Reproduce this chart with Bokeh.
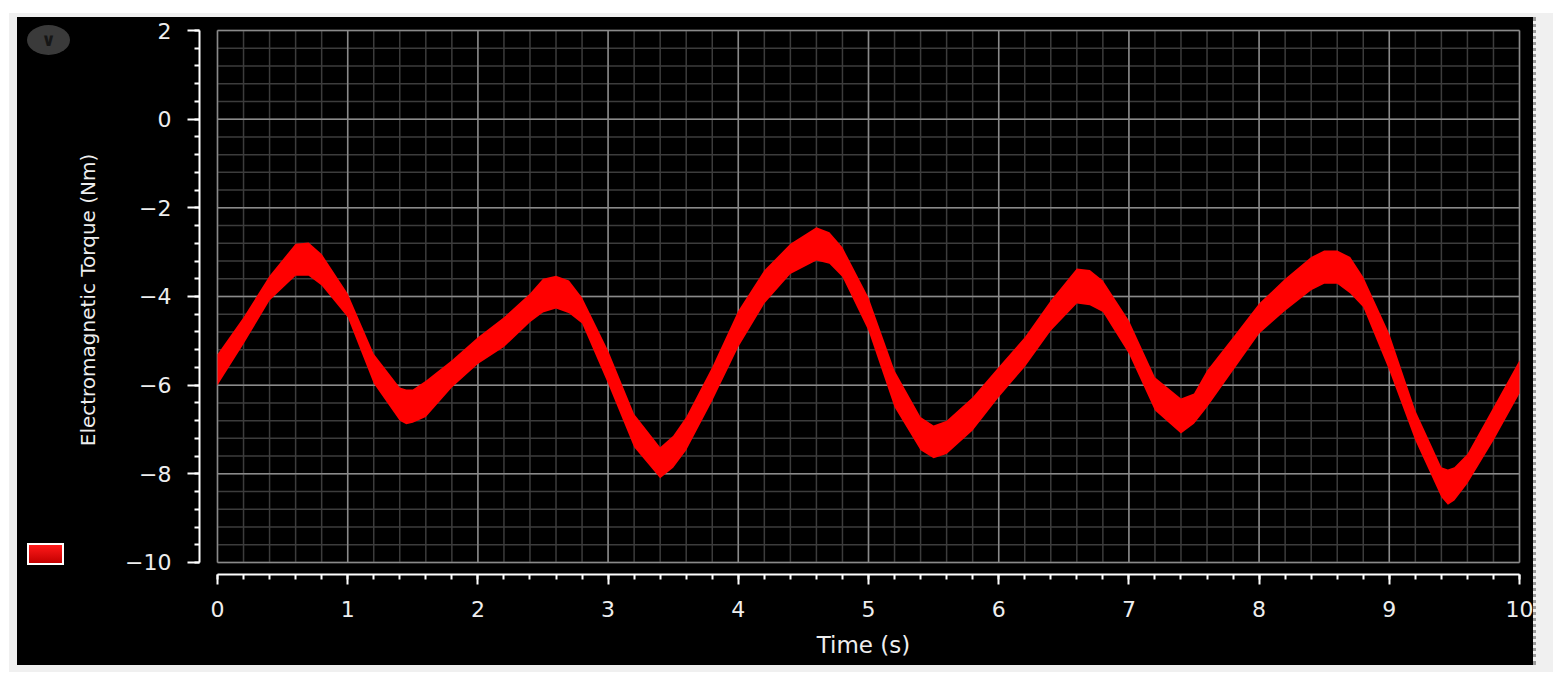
from bokeh.plotting import figure
from bokeh.models import Range1d, FixedTicker, ColumnDataSource, Div
from bokeh.layouts import column, row
from bokeh.embed import file_html
from bokeh.resources import INLINE

# ---- data (upper / lower edge of the noisy torque band) ----
time_s = [0.0, 0.2, 0.4, 0.6, 0.7, 0.8, 1.0, 1.2, 1.4, 1.45, 1.5, 1.6, 1.8, 2.0, 2.2, 2.4,
          2.5, 2.6, 2.7, 2.8, 3.0, 3.2, 3.4, 3.5, 3.6, 3.8, 4.0, 4.2, 4.4, 4.6, 4.7, 4.8,
          5.0, 5.2, 5.4, 5.5, 5.6, 5.8, 6.0, 6.2, 6.4, 6.6, 6.7, 6.8, 7.0, 7.2, 7.4, 7.5,
          7.6, 7.8, 8.0, 8.2, 8.4, 8.5, 8.6, 8.7, 8.8, 9.0, 9.2, 9.4, 9.45, 9.5, 9.6, 9.8, 10.0]
torque_upper = [-5.30, -4.47, -3.53, -2.81, -2.78, -3.04, -3.93, -5.29, -6.05, -6.10, -6.10, -5.90,
                -5.44, -4.92, -4.47, -3.93, -3.60, -3.53, -3.64, -4.02, -5.22, -6.65, -7.40, -7.14,
                -6.72, -5.59, -4.32, -3.41, -2.81, -2.44, -2.55, -2.89, -4.02, -5.67, -6.72, -6.91,
                -6.80, -6.27, -5.59, -4.92, -4.09, -3.37, -3.40, -3.64, -4.54, -5.82, -6.30, -6.19,
                -5.67, -4.92, -4.16, -3.60, -3.11, -2.96, -2.96, -3.11, -3.56, -4.84, -6.57, -7.85,
                -7.90, -7.85, -7.55, -6.50, -5.44]
torque_lower = [-6.00, -5.07, -4.09, -3.53, -3.53, -3.75, -4.47, -5.96, -6.80, -6.88, -6.85, -6.72,
                -6.05, -5.52, -5.14, -4.58, -4.36, -4.27, -4.38, -4.61, -5.97, -7.40, -8.10, -7.86,
                -7.47, -6.35, -5.14, -4.16, -3.49, -3.19, -3.26, -3.56, -4.77, -6.50, -7.47, -7.65,
                -7.55, -7.02, -6.27, -5.59, -4.77, -4.16, -4.20, -4.35, -5.29, -6.57, -7.09, -6.87,
                -6.50, -5.67, -4.84, -4.32, -3.86, -3.71, -3.71, -3.93, -4.24, -5.67, -7.25, -8.53,
                -8.70, -8.60, -8.22, -7.25, -6.19]

x_major = [0, 1, 2, 3, 4, 5, 6, 7, 8, 9, 10]
y_major = [-10, -8, -6, -4, -2, 0, 2]
x_minor = [round(0.2 * i, 1) for i in range(51)]
y_minor = [round(-10 + 0.4 * i, 1) for i in range(31)]
y_tick_labels = {v: str(v).replace("-", "\u2212") for v in y_major}
x_label = "Time (s)"
y_label = "Electromagnetic Torque (Nm)"

FONT = "DejaVu Sans"
GRID_MINOR = "#3c3c3c"
GRID_MAJOR = "#8a8a8a"
PAGE_GRAY = "#f0f0f0"

FIG_H = 648
p = figure(width=1463, height=FIG_H, output_backend="svg", toolbar_location=None,
           x_range=Range1d(-0.1382, 10.0614), y_range=Range1d(-10.2707, 2.1128),
           min_border_left=129, min_border_right=6, min_border_top=8, min_border_bottom=91,
           background_fill_color="black", border_fill_color="black", outline_line_color=None,
           margin=0)
p.grid.visible = False

x0, x1 = x_major[0], x_major[-1]
y0, y1 = y_major[0], y_major[-1]
# minor grid
p.segment(x0=x_minor, y0=[y0] * len(x_minor), x1=x_minor, y1=[y1] * len(x_minor),
          line_color=GRID_MINOR, line_width=1.5)
p.segment(x0=[x0] * len(y_minor), y0=y_minor, x1=[x1] * len(y_minor), y1=y_minor,
          line_color=GRID_MINOR, line_width=1.5)
# major grid
p.segment(x0=x_major, y0=[y0] * len(x_major), x1=x_major, y1=[y1] * len(x_major),
          line_color=GRID_MAJOR, line_width=1.5)
p.segment(x0=[x0] * len(y_major), y0=y_major, x1=[x1] * len(y_major), y1=y_major,
          line_color=GRID_MAJOR, line_width=1.5)

src = ColumnDataSource(dict(t=time_s, hi=torque_upper, lo=torque_lower))
band = p.varea(x="t", y1="lo", y2="hi", source=src, fill_color="#ff0000")

# axes
xa = p.xaxis[0]
xa.ticker = FixedTicker(ticks=x_major, minor_ticks=x_minor)
xa.bounds = (x0, x1)
ya = p.yaxis[0]
ya.ticker = FixedTicker(ticks=y_major, minor_ticks=y_minor)
ya.bounds = (y0, y1)
ya.major_label_overrides = y_tick_labels
xa.axis_label = x_label
ya.axis_label = y_label
for ax in (xa, ya):
    ax.axis_line_color = "white"
    ax.axis_line_width = 2
    ax.major_tick_line_color = "white"
    ax.major_tick_line_width = 2
    ax.minor_tick_line_color = "white"
    ax.minor_tick_line_width = 2
    ax.major_tick_in = 0
    ax.minor_tick_in = 0
    ax.major_label_text_font = FONT
    ax.major_label_text_font_size = "22px"
    ax.major_label_text_color = "#eeeeee"
    ax.axis_label_text_font = FONT
    ax.axis_label_text_font_style = "normal"
    ax.axis_label_text_color = "#eeeeee"
xa.major_tick_out = 10
xa.minor_tick_out = 5
xa.major_label_standoff = 16
xa.axis_label_text_font_size = "23px"
xa.axis_label_standoff = 12
ya.major_tick_out = 12
ya.minor_tick_out = 5
ya.major_label_standoff = 16
ya.axis_label_text_font_size = "20px"
ya.axis_label_standoff = 22

# left strip of the viewer: round chevron button and the legend swatch of the series
side = Div(width=53, height=FIG_H, margin=0, styles={"background-color": "black"}, text=(
    '<div style="margin:8px 0 0 10px;width:43px;height:30px;border-radius:50%;'
    'background:#3a3a3a;color:#161616;font:bold 18px \'DejaVu Sans\';text-align:center;'
    'line-height:30px;">&#8744;</div>'
    '<div style="margin:488px 0 0 10px;width:37px;height:22px;border:2px solid #ffffff;'
    'background:linear-gradient(#ff1a1a,#c40000);"></div>'))


def pad(w, h, color):
    return Div(width=w, height=h, margin=0, text="", styles={"background-color": color})


right_edge = Div(width=20, height=FIG_H, margin=0, text="",
                 styles={"background-color": PAGE_GRAY, "border-left": "3px dotted #9a9a9a",
                         "box-sizing": "border-box"})
plot_row = row(side, p, spacing=0, margin=0, styles={"background-color": "black"})
inner = column(pad(1544, 4, PAGE_GRAY),
               row(pad(8, FIG_H, PAGE_GRAY), plot_row, right_edge, spacing=0, margin=0),
               pad(1544, 7, PAGE_GRAY),
               spacing=0, margin=0, styles={"background-color": PAGE_GRAY})
root = column(pad(1553, 13, "white"),
              row(pad(9, 659, "white"), inner, spacing=0, margin=0),
              spacing=0, margin=0)

open("out.html", "w").write(file_html(root, INLINE))
